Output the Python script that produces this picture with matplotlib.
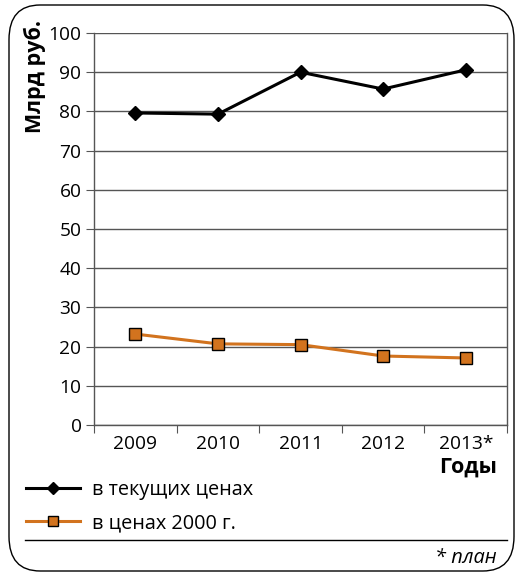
import matplotlib.pyplot as plt
from matplotlib.patches import FancyBboxPatch
from matplotlib.lines import Line2D

years = ["2009", "2010", "2011", "2012", "2013*"]
current_prices = [79.6, 79.3, 90.0, 85.7, 90.6]
prices_2000 = [23.2, 20.7, 20.5, 17.6, 17.1]

plt.rcParams['font.family'] = ['Open Sans', 'DejaVu Sans']

fig = plt.figure(figsize=(5.19, 5.75), dpi=100)

# rounded frame round the whole figure
frame = FancyBboxPatch((9 / 519, 4 / 575), 505 / 519, 566 / 575,
                       boxstyle="round,pad=0,rounding_size=0.06",
                       transform=fig.transFigure, fill=False,
                       edgecolor='black', linewidth=1.0)
fig.patches.append(frame)

ax = fig.add_axes([94 / 519, 1 - 425 / 575, 413 / 519, 392 / 575])

x = range(len(years))
ax.plot(x, current_prices, color='black', linewidth=2.2, marker='D',
        markersize=7, markerfacecolor='black', markeredgecolor='black', zorder=3)
ax.plot(x, prices_2000, color='#d2731e', linewidth=2.2, marker='s',
        markersize=8, markerfacecolor='#d2731e', markeredgecolor='black',
        markeredgewidth=1.0, zorder=3)

ax.set_xlim(-0.5, len(years) - 0.5)
ax.set_ylim(0, 100)
ax.set_yticks(range(0, 101, 10))
ax.grid(axis='y', color='#555555', linewidth=1.0)
ax.set_axisbelow(True)

ax.set_xticks([i - 0.5 for i in range(len(years) + 1)])
ax.set_xticklabels([])
ax.set_xticks(list(x), minor=True)
ax.set_xticklabels(years, minor=True)
ax.tick_params(axis='x', which='minor', length=0, pad=7, labelsize=13.8)
ax.tick_params(axis='x', which='major', length=6, color='#555555')
ax.tick_params(axis='y', length=6, color='#555555', labelsize=13.8, pad=3)

for s in ax.spines.values():
    s.set_color('#555555')
    s.set_linewidth(1.0)
ax.spines['top'].set_visible(False)

fig.text(35 / 519, 1 - 20 / 575, "Млрд руб.", fontsize=15.5, fontweight='bold',
         rotation=90, ha='center', va='top')
fig.text(497 / 519, 1 - 467 / 575, "Годы", fontsize=15.5, fontweight='bold',
         ha='right', va='center')

# legend
h1 = Line2D([], [], color='black', linewidth=2.2, marker='D', markersize=6)
h2 = Line2D([], [], color='#d2731e', linewidth=2.2, marker='s', markersize=7,
            markerfacecolor='#d2731e', markeredgecolor='black')
fig.legend([h1, h2], ["в текущих ценах", "в ценах 2000 г."],
           loc='upper left', bbox_to_anchor=(8 / 519, 1 - 462 / 575),
           frameon=False, fontsize=14.3, handlelength=2.75, labelspacing=0.68,
           handletextpad=0.6)

fig.add_artist(Line2D([25 / 519, 507 / 519], [1 - 540 / 575, 1 - 540 / 575],
                      transform=fig.transFigure, color='black', linewidth=1.0))
fig.text(497 / 519, 1 - 558 / 575, "* план", fontsize=14.4, style='italic',
         ha='right', va='center')

fig.savefig("out.png", dpi=100)
